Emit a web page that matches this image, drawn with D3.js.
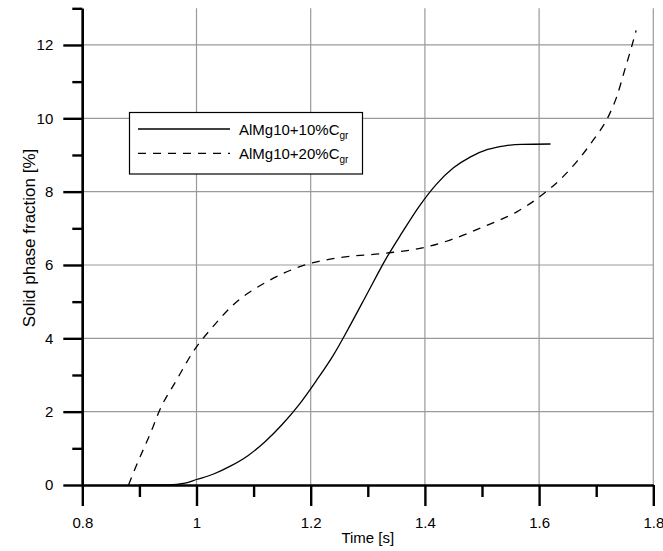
<!DOCTYPE html>
<html>
<head>
<meta charset="utf-8">
<script src="https://cdn.jsdelivr.net/npm/d3@7"></script>
<style>
  html, body { margin: 0; padding: 0; background: #fff; }
  svg { display: block; font-family: "Liberation Sans", Arial, sans-serif; }
</style>
</head>
<body>
<svg id="chart" width="663" height="551"></svg>
<script>
// ---- data ----
const xMajorTicks = [0.8, 1.0, 1.2, 1.4, 1.6, 1.8];
const xMinorTicks = [0.9, 1.1, 1.3, 1.5, 1.7];
const yMajorTicks = [0, 2, 4, 6, 8, 10, 12];
const yMinorTicks = [1, 3, 5, 7, 9, 11, 13];

const series10Time  = [0.90, 0.95, 0.98, 1.00, 1.03, 1.06, 1.09, 1.12, 1.15, 1.18, 1.21, 1.24, 1.27, 1.30, 1.33, 1.36, 1.39, 1.42, 1.45, 1.48, 1.51, 1.54, 1.57, 1.62];
const series10Value = [0.00, 0.00, 0.05, 0.15, 0.30, 0.52, 0.80, 1.18, 1.65, 2.20, 2.85, 3.55, 4.38, 5.25, 6.12, 6.88, 7.60, 8.20, 8.65, 8.95, 9.15, 9.25, 9.29, 9.30];

const series20Time  = [0.881, 0.892, 0.924, 0.933, 0.965, 1.00, 1.024, 1.064, 1.123, 1.19, 1.25, 1.33, 1.40, 1.444, 1.502, 1.561, 1.601, 1.642, 1.666, 1.695, 1.721, 1.736, 1.75, 1.762, 1.77];
const series20Value = [0.00, 0.43, 1.59, 1.95, 2.86, 3.77, 4.23, 4.91, 5.54, 6.00, 6.20, 6.32, 6.48, 6.68, 7.04, 7.45, 7.86, 8.41, 8.82, 9.41, 10.04, 10.59, 11.32, 11.95, 12.40];

const seriesNames = ["AlMg10+10%C", "AlMg10+20%C"];
const seriesSub = "gr";
const xTitle = "Time [s]";
const yTitle = "Solid phase fraction [%]";

// ---- chart ----
const svg = d3.select("#chart");
const x = d3.scaleLinear().domain([0.8, 1.8]).range([82.3, 653.3]);
const y = d3.scaleLinear().domain([0, 13]).range([485, 8.3]);
const FONT = 15;

// gridlines
const grid = svg.append("g").attr("stroke", "#9a9a9a").attr("stroke-width", 1.2);
grid.selectAll("line.v").data(xMajorTicks.slice(1)).join("line")
  .attr("x1", d => x(d)).attr("x2", d => x(d))
  .attr("y1", y(0)).attr("y2", y(13));
grid.selectAll("line.h").data(yMajorTicks.slice(1)).join("line")
  .attr("x1", x(0.8)).attr("x2", x(1.8))
  .attr("y1", d => y(d)).attr("y2", d => y(d));

// axes
function styleAxis(g) {
  g.selectAll("path.domain").attr("stroke", "#000").attr("stroke-width", 2.4);
  g.selectAll(".tick line").attr("stroke", "#000").attr("stroke-width", 2.4);
  g.selectAll(".tick text").attr("fill", "#000").attr("font-size", FONT)
    .attr("font-family", "'Liberation Sans', Arial, sans-serif");
}

const xAxisMinor = svg.append("g").attr("transform", `translate(0,${y(0)})`)
  .call(d3.axisBottom(x).tickValues(xMinorTicks).tickSize(12).tickSizeOuter(0).tickFormat(""));
styleAxis(xAxisMinor);
xAxisMinor.select("path.domain").remove();

const xAxis = svg.append("g").attr("transform", `translate(0,${y(0)})`)
  .call(d3.axisBottom(x).tickValues(xMajorTicks).tickSize(21).tickSizeOuter(0).tickPadding(11)
    .tickFormat(d => String(+d.toFixed(1))));
styleAxis(xAxis);

const yAxisMinor = svg.append("g").attr("transform", `translate(${x(0.8)},0)`)
  .call(d3.axisLeft(y).tickValues(yMinorTicks).tickSize(10).tickSizeOuter(0).tickFormat(""));
styleAxis(yAxisMinor);

const yAxis = svg.append("g").attr("transform", `translate(${x(0.8)},0)`)
  .call(d3.axisLeft(y).tickValues(yMajorTicks).tickSize(19).tickSizeOuter(0).tickPadding(10));
styleAxis(yAxis);

// curves
const line = d3.line().x(d => x(d[0])).y(d => y(d[1])).curve(d3.curveMonotoneX);
const s10 = series10Time.map((t, i) => [t, series10Value[i]]);
const s20 = series20Time.map((t, i) => [t, series20Value[i]]);

svg.append("path").datum(s10).attr("d", line)
  .attr("fill", "none").attr("stroke", "#000").attr("stroke-width", 1.3);
svg.append("path").datum(s20).attr("d", line)
  .attr("fill", "none").attr("stroke", "#000").attr("stroke-width", 1.3)
  .attr("stroke-dasharray", "8,7");

// axis titles
svg.append("text").attr("x", (x(0.8) + x(1.8)) / 2).attr("y", 543)
  .attr("text-anchor", "middle").attr("font-size", FONT).text(xTitle);
svg.append("text").attr("transform", "translate(35,238) rotate(-90)")
  .attr("text-anchor", "middle").attr("font-size", 17).text(yTitle);

// legend
const lg = svg.append("g");
lg.append("rect").attr("x", 129.5).attr("y", 112.5).attr("width", 233).attr("height", 61.5)
  .attr("fill", "#fff").attr("stroke", "#000").attr("stroke-width", 1.2);
const legendRows = [
  { name: seriesNames[0], dash: null, ly: 129, ty: 134.5 },
  { name: seriesNames[1], dash: "8,7", ly: 153.3, ty: 159 }
];
legendRows.forEach(r => {
  const l = lg.append("line").attr("x1", 138).attr("x2", 230).attr("y1", r.ly).attr("y2", r.ly)
    .attr("stroke", "#000").attr("stroke-width", 1.3);
  if (r.dash) l.attr("stroke-dasharray", r.dash);
  const t = lg.append("text").attr("x", 239).attr("y", r.ty).attr("font-size", FONT);
  t.append("tspan").text(r.name);
  t.append("tspan").attr("font-size", 10).attr("dy", 4).text(seriesSub);
});
</script>
</body>
</html>
